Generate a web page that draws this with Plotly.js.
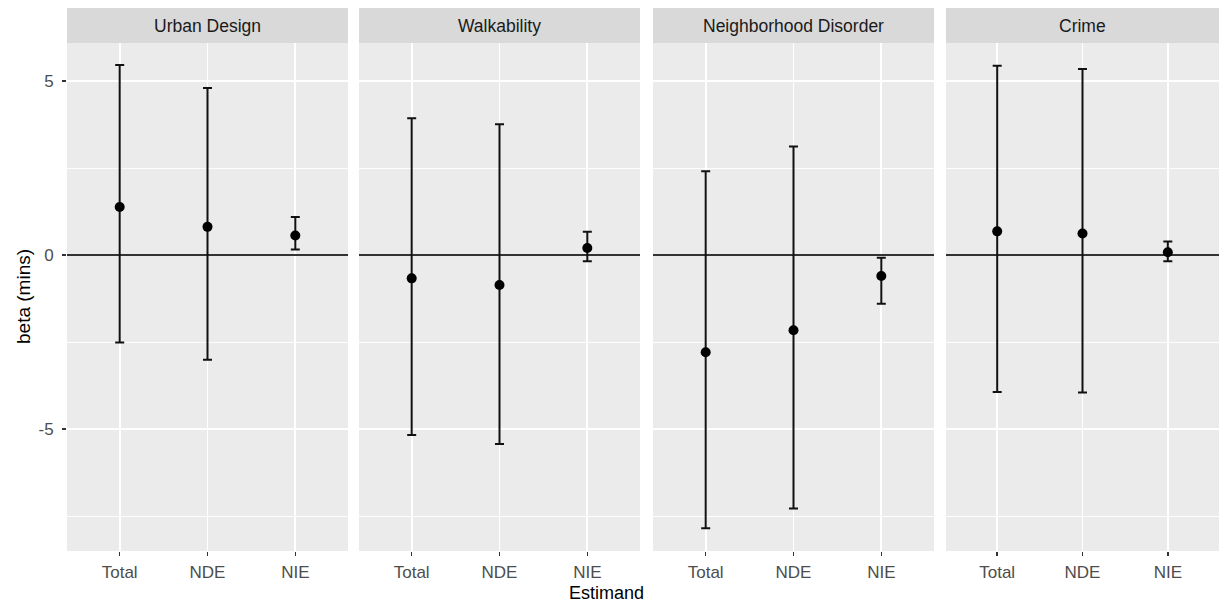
<!DOCTYPE html>
<html>
<head>
<meta charset="utf-8">
<script src="https://cdn.plot.ly/plotly-3.0.1.min.js"></script>
<style>html,body{margin:0;padding:0;background:#fff;}#chart{width:1221px;height:606px;}</style>
</head>
<body>
<div id="chart"></div>
<script>
const categories = ['Total', 'NDE', 'NIE'];
const facets = ['Urban Design', 'Walkability', 'Neighborhood Disorder', 'Crime'];

const urbanEst = [1.38, 0.81, 0.56];
const urbanLo  = [-2.51, -3.01, 0.16];
const urbanHi  = [5.46, 4.80, 1.09];

const walkEst = [-0.67, -0.86, 0.20];
const walkLo  = [-5.17, -5.43, -0.18];
const walkHi  = [3.93, 3.76, 0.67];

const disorderEst = [-2.79, -2.16, -0.60];
const disorderLo  = [-7.85, -7.28, -1.40];
const disorderHi  = [2.41, 3.12, -0.08];

const crimeEst = [0.68, 0.62, 0.08];
const crimeLo  = [-3.93, -3.95, -0.18];
const crimeHi  = [5.44, 5.34, 0.39];

const yTickVals = [-5, 0, 5];
const yTickText = ['-5', '0', '5'];

const series = [
  [urbanEst, urbanLo, urbanHi],
  [walkEst, walkLo, walkHi],
  [disorderEst, disorderLo, disorderHi],
  [crimeEst, crimeLo, crimeHi]
];

// layout geometry (pixels)
const W = 1221, H = 606;
const mL = 67, mR = 2, mT = 43, mB = 55;
const plotW = W - mL - mR, plotH = H - mT - mB;
const panelPx = [[67, 348], [359, 640], [653, 934], [946, 1219]];
const domains = panelPx.map(p => [(p[0] - mL) / plotW, (p[1] - mL) / plotW]);

const font = 'Liberation Sans, Arial, Helvetica, sans-serif';
const traces = [];
const layout = {
  width: W, height: H,
  margin: {l: mL, r: mR, t: mT, b: mB},
  paper_bgcolor: '#FFFFFF',
  plot_bgcolor: '#EBEBEB',
  showlegend: false,
  font: {family: font, color: '#4D4D4D'},
  shapes: [],
  annotations: []
};

series.forEach((s, i) => {
  const [est, lo, hi] = s;
  const xa = i === 0 ? 'x' : 'x' + (i + 1);
  const ya = i === 0 ? 'y' : 'y' + (i + 1);
  traces.push({
    type: 'scatter', mode: 'markers',
    x: categories, y: est,
    xaxis: xa, yaxis: ya,
    marker: {color: '#000000', size: 10},
    error_y: {
      type: 'data', symmetric: false,
      array: hi.map((h, k) => h - est[k]),
      arrayminus: lo.map((l, k) => est[k] - l),
      color: '#111111', thickness: 2, width: 4.5
    },
    hoverinfo: 'skip'
  });
  const xKey = i === 0 ? 'xaxis' : 'xaxis' + (i + 1);
  const yKey = i === 0 ? 'yaxis' : 'yaxis' + (i + 1);
  layout[xKey] = {
    domain: domains[i], anchor: ya,
    type: 'category', categoryorder: 'array', categoryarray: categories,
    range: [-0.6, 2.6],
    showgrid: true, gridcolor: '#FFFFFF', gridwidth: 1.8,
    zeroline: false, showline: false,
    ticks: 'outside', ticklen: 4, tickwidth: 1.6, tickcolor: '#333333',
    tickfont: {family: font, size: 17, color: '#4D4D4D'},
    ticklabelstandoff: 2,
    fixedrange: true
  };
  layout[yKey] = {
    domain: [0, 1], anchor: xa,
    range: [-8.5, 6.09],
    tickmode: 'array', tickvals: yTickVals, ticktext: yTickText,
    showgrid: true, gridcolor: '#FFFFFF', gridwidth: 1.8,
    minor: {tickmode: 'array', tickvals: [-7.5, -2.5, 2.5], showgrid: true, gridcolor: '#FFFFFF', gridwidth: 0.9, ticks: ''},
    zeroline: true, zerolinecolor: '#333333', zerolinewidth: 2,
    showline: false,
    ticks: i === 0 ? 'outside' : '', ticklen: 4, tickwidth: 1.6, tickcolor: '#333333',
    showticklabels: i === 0,
    tickfont: {family: font, size: 17, color: '#4D4D4D'},
    ticklabelstandoff: 5,
    fixedrange: true
  };
  if (i > 0) layout[yKey].matches = 'y';

  // strip
  layout.shapes.push({
    type: 'rect', xref: 'paper', yref: 'paper',
    x0: domains[i][0], x1: domains[i][1],
    y0: 1, y1: 1 + 35 / plotH,
    fillcolor: '#D9D9D9', line: {width: 0}, layer: 'below'
  });
  layout.annotations.push({
    xref: 'paper', yref: 'paper',
    x: (domains[i][0] + domains[i][1]) / 2, y: 1 + 17.5 / plotH,
    text: facets[i], showarrow: false,
    xanchor: 'center', yanchor: 'middle',
    font: {family: font, size: 17.5, color: '#1A1A1A'}
  });
});

// axis titles
layout.annotations.push({
  xref: 'paper', yref: 'paper',
  x: (606 - mL) / plotW, y: -(593 - (H - mB)) / plotH,
  text: 'Estimand', showarrow: false, xanchor: 'center', yanchor: 'middle',
  font: {family: font, size: 18, color: '#000000'}
});
layout.annotations.push({
  xref: 'paper', yref: 'paper',
  x: -(mL - 23) / plotW, y: 0.5,
  text: 'beta (mins)', showarrow: false, xanchor: 'center', yanchor: 'middle',
  textangle: -90,
  font: {family: font, size: 19, color: '#000000'}
});

Plotly.newPlot('chart', traces, layout, {displayModeBar: false, staticPlot: true});
</script>
</body>
</html>
